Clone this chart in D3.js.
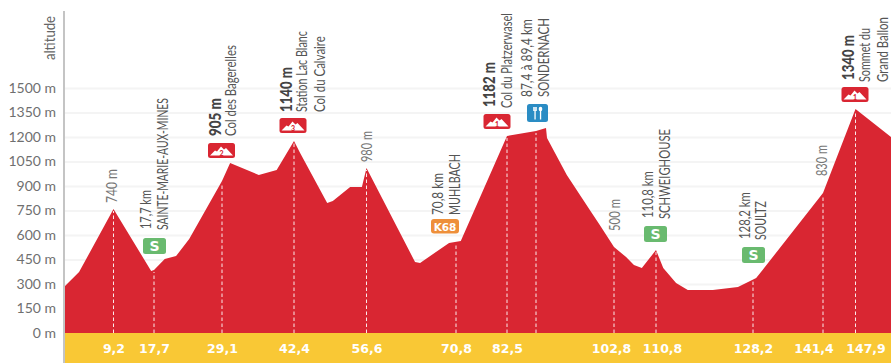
<!DOCTYPE html>
<html>
<head>
<meta charset="utf-8">
<script src="https://cdn.jsdelivr.net/npm/d3@7"></script>
<style>
html,body{margin:0;padding:0;background:#fff}
svg{display:block}
text{font-family:Lato,sans-serif}
</style>
</head>
<body>
<svg id="c" width="891" height="363"></svg>
<script>
// ---- data ----
const profileKm  = [0,2.8,9.2,17.1,17.7,19.5,21.4,23.6,29.1,30.6,35.9,39.2,42.4,43.6,48.9,50,53.4,55.7,56.6,64.3,65.1,69.7,71.9,82.5,87.4,89.4,89.6,93.5,98.3,100,102.8,105.1,106.6,108.1,110.8,112.1,114.4,116.5,121,125.5,128.8,130.3,141.4,147.9,154.7];
const profileAlt = [282,373,759,380,386,453,471,575,931,1041,967,998,1175,1102,796,808,894,894,1010,435,429,551,563,1206,1237,1255,1194,967,741,661,527,465,416,398,508,398,306,263,263,282,337,398,857,1371,1200];
const altTicks = [0,150,300,450,600,750,900,1050,1200,1350,1500];
const kmTicks  = [9.2,17.7,29.1,42.4,56.6,70.8,82.5,102.8,110.8,128.2,141.4,147.9];
const dashKm   = [9.2,17.7,29.1,42.4,56.6,70.8,82.5,87.4,102.8,110.8,128.2,141.4,147.9];
const scaleKnotKm = [0,9.2,17.7,29.1,42.4,56.6,70.8,82.5,87.4,89.4,102.8,110.8,128.2,141.4,147.9,154.7];
const labelText = ["740 m","17,7 km","SAINTE-MARIE-AUX-MINES","905 m","Col des Bagerelles","1140 m","Station Lac Blanc","Col du Calvaire","980 m","70,8 km","MUHLBACH","1182 m","Col du Platzerwasel","87,4 à 89,4 km","SONDERNACH","500 m","110,8 km","SCHWEIGHOUSE","128,2 km","SOULTZ","830 m","1340 m","Sommet du","Grand Ballon"];
const labelKm   = [9.2,17.7,17.7,29.1,29.1,42.4,42.4,42.4,56.6,70.8,70.8,82.5,82.5,87.4,87.4,102.8,110.8,110.8,128.2,128.2,141.4,147.9,147.9,147.9];
const climbKm   = [29.1,42.4,82.5,147.9];
const climbCat  = ["2","3","1","1"];
const sprintKm  = [17.7,110.8,128.2];

// ---- layout (separate from the data) ----
const W = 891, H = 363, left = 64, base = 333;
const knotPx = [64,113.5,154,222,294,366.5,456,507,536,546,614,656,753,823,855.5,891];
const tickShift = {102.8:-3,110.8:6,141.4:-9.5,147.9:10};
const labelDx   = [3.5,-3,14,-1.3,14,-2.5,13,31,5.5,-13,4,-12,5,-4,13,6,-3,14,-3,13,4,-1.5,14,32];
const labelRise = [130,104,103,197,197,221,221,221,171,118,118,226,225,236,236,102,115,114,94,93,157,253,251,251];
const labelLen  = [34,39,132,38,91,45,81,76,31,42,61,45,95,78,79,32,47,90,47,39,31,45,54,65];
const labelBold = new Set([3,5,11,21]);
const labelLight = new Set([0,8,15,20]);
const climbRise = [190,215,219,246], climbDx = [-0.5,-1,-10,-0.5];
const sprintDx = [0.5,-0.5,0.5], sprintRise = [95,107,86];

const RED="#d92632", YEL="#f9c835", GREY="#6f6f6f", GRN="#69ba6f", ORG="#ee8f3a", BLU="#2a8cc4";
const svg = d3.select("#c");
const x = d3.scaleLinear().domain(scaleKnotKm).range(knotPx);
const y = d3.scaleLinear().domain([0,1500]).range([base,88]);
const altAt = d3.scaleLinear().domain(profileKm).range(profileAlt);

// y axis + grid
const ya = svg.append("g").attr("transform",`translate(${left},0)`)
  .call(d3.axisLeft(y).tickValues(altTicks).tickSize(-(W-left)).tickPadding(8).tickFormat(d=>d+" m"));
ya.select(".domain").remove();
ya.selectAll("line").attr("stroke","#f4f4f4").attr("stroke-width",2);
ya.selectAll("text").attr("fill",GREY).style("font-size","14px").style("font-family","Lato,sans-serif");

// profile
const pts = d3.zip(profileKm,profileAlt);
svg.append("path").datum(pts).attr("fill",RED)
  .attr("d",d3.area().x(d=>x(d[0])).y0(y(0)).y1(d=>y(d[1])));

// km band
svg.append("rect").attr("x",left).attr("y",base).attr("width",W-left).attr("height",H-base).attr("fill",YEL);
const xa = svg.append("g").attr("transform",`translate(0,${base})`)
  .call(d3.axisBottom(x).tickValues(kmTicks).tickSize(0).tickPadding(11).tickFormat(d=>String(d).replace(".",",")));
xa.select(".domain").remove();
xa.selectAll("text").attr("fill","#fff").attr("dx",d=>tickShift[d]||0)
  .style("font-family","'DejaVu Sans',sans-serif").style("font-weight","700").style("font-size","12.5px");

// dashed drop lines
svg.append("g").selectAll("line").data(dashKm).join("line")
  .attr("x1",d=>x(d)).attr("x2",d=>x(d)).attr("y1",y(0)).attr("y2",d=>y(altAt(d))+2)
  .attr("stroke","#fff").attr("stroke-width",1).attr("stroke-dasharray","3.5 2.5").attr("opacity",.9);

// axis line
svg.append("line").attr("x1",left).attr("x2",left).attr("y1",11).attr("y2",H).attr("stroke","#c4c4c4").attr("stroke-width",2);

// rotated helper: squeezes the text horizontally to the read length
function vtext(t,px,py,len,bold,size,fill){
  const n = svg.append("text").attr("fill",fill).style("font-size",size+"px").style("font-weight",bold?900:400).text(t);
  const natural = n.node().getComputedTextLength();
  n.attr("transform",`translate(${px},${py}) rotate(-90) scale(${len/natural},1)`);
}
vtext("altitude",55,60,44,false,15.5,"#666");
labelText.forEach((t,i)=>{
  const caps = t===t.toUpperCase() && /[A-Z]{3}/.test(t);
  const b = labelBold.has(i);
  vtext(t,x(labelKm[i])+labelDx[i],base-labelRise[i],labelLen[i],b,b?16.5:(caps?16:15.5),b?"#444":(labelLight.has(i)?"#777":"#555"));
});

// climb badges
climbKm.forEach((k,i)=>{
  const g = svg.append("g").attr("transform",`translate(${x(k)+climbDx[i]-13.5},${base-climbRise[i]})`);
  g.append("rect").attr("width",27).attr("height",15).attr("rx",2.5).attr("fill",RED);
  g.append("path").attr("fill","#fff").attr("d",d3.line()([[2,12.5],[7,7.5],[9,8.5],[13,3.5],[16,6.5],[18,5],[25,12.5]]));
  g.append("text").attr("x",13.5).attr("y",12.5).attr("text-anchor","middle").attr("fill",RED)
    .style("font-size","7px").style("font-weight",900).text(climbCat[i]);
});

// sprint badges
sprintKm.forEach((k,i)=>{
  const g = svg.append("g").attr("transform",`translate(${x(k)+sprintDx[i]-11.5},${base-sprintRise[i]})`);
  g.append("rect").attr("width",23).attr("height",16).attr("rx",2.5).attr("fill",GRN);
  g.append("text").attr("x",11.5).attr("y",13).attr("text-anchor","middle").attr("fill","#fff")
    .style("font-family","'DejaVu Sans',sans-serif").style("font-size","14px").style("font-weight",700).text("S");
});

// K68 badge
{
  const g = svg.append("g").attr("transform",`translate(${x(70.8)-25},${base-114})`);
  g.append("rect").attr("width",28).attr("height",14.5).attr("rx",3).attr("fill",ORG);
  g.append("text").attr("x",14).attr("y",11.5).attr("text-anchor","middle").attr("fill","#fff")
    .style("font-family","'DejaVu Sans',sans-serif").style("font-size","10.5px").style("font-weight",700).text("K68");
}

// food badge
{
  const g = svg.append("g").attr("transform",`translate(${x(87.4)-9},${base-229})`);
  g.append("rect").attr("width",21).attr("height",18).attr("rx",2.5).attr("fill",BLU);
  g.append("rect").attr("x",6).attr("y",3).attr("width",4).attr("height",4).attr("fill","#cfe6f3");
  g.append("rect").attr("x",7.4).attr("y",6).attr("width",1.3).attr("height",9.5).attr("fill","#fff");
  g.append("ellipse").attr("cx",13.5).attr("cy",5).attr("rx",1.8).attr("ry",2.2).attr("fill","#fff");
  g.append("rect").attr("x",12.9).attr("y",6).attr("width",1.3).attr("height",9.5).attr("fill","#fff");
}
</script>
</body>
</html>
